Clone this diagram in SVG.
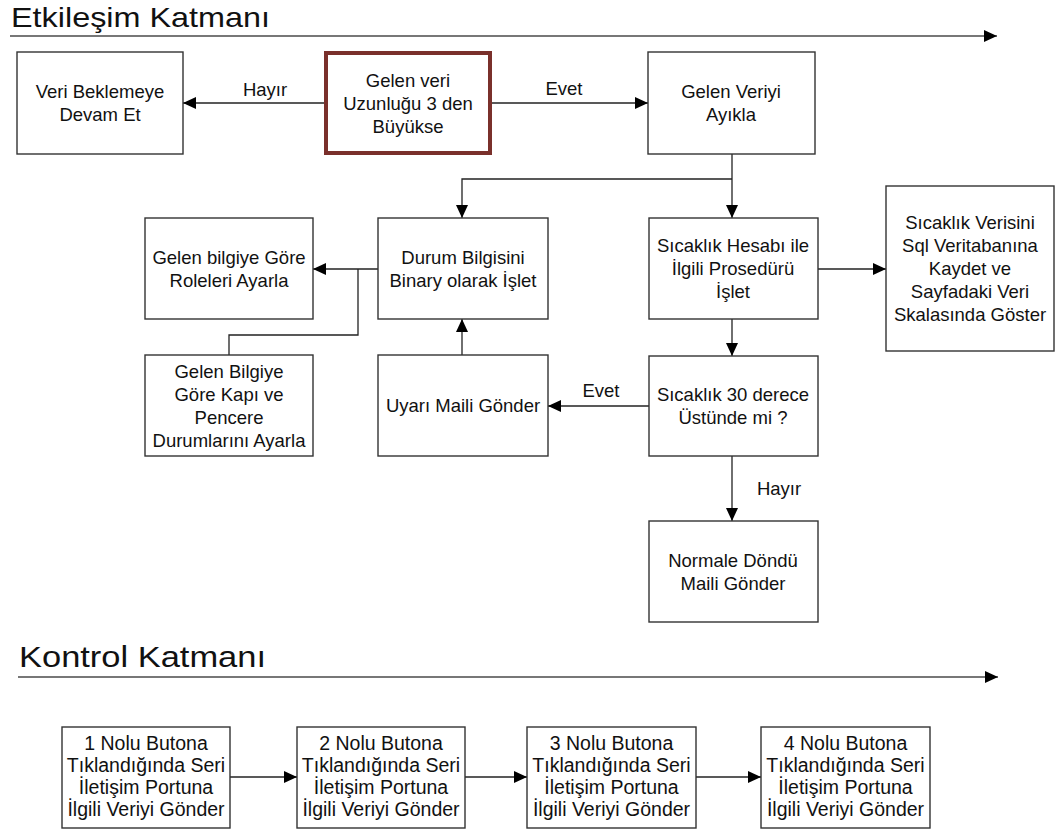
<svg xmlns="http://www.w3.org/2000/svg" width="1060" height="834" viewBox="0 0 1060 834">
  <defs>
    <marker id="arrow" markerUnits="userSpaceOnUse" markerWidth="13" markerHeight="12" refX="13" refY="6" orient="auto">
      <path d="M0,0 L13,6 L0,12 Z" fill="#000"/>
    </marker>
    <style>
      .box { fill: #fff; stroke: #333; stroke-width: 1.4; }
      .hot { fill: #fff; stroke: #7a302b; stroke-width: 4; }
      .t { font-family: "Liberation Sans", Arial, sans-serif; font-size: 18.5px; fill: #111; text-anchor: middle; }
      .tb { font-family: "Liberation Sans", Arial, sans-serif; font-size: 19.5px; fill: #111; text-anchor: middle; }
      .lbl { font-family: "Liberation Sans", Arial, sans-serif; font-size: 18.5px; fill: #111; text-anchor: middle; }
      .layer { font-family: "Liberation Sans", Arial, sans-serif; fill: #111; }
      .lane { stroke: #777; stroke-width: 2; fill: none; }
      .c { stroke: #222; stroke-width: 1.3; fill: none; }
    </style>
  </defs>

  <!-- layer headings -->
  <g id="layer-etkilesim">
    <text class="layer" x="11" y="27" font-size="28" textLength="259" lengthAdjust="spacingAndGlyphs">Etkileşim Katmanı</text>
    <line class="lane" x1="10" y1="36" x2="997" y2="36" marker-end="url(#arrow)"/>
  </g>
  <g id="layer-kontrol">
    <text class="layer" x="19" y="667" font-size="30" textLength="247" lengthAdjust="spacingAndGlyphs">Kontrol Katmanı</text>
    <line class="lane" x1="18" y1="677" x2="998" y2="677" marker-end="url(#arrow)"/>
  </g>

  <!-- connectors -->
  <g id="connectors">
    <line class="c" x1="324" y1="103" x2="183" y2="103" marker-end="url(#arrow)"/>
    <text class="lbl" x="265" y="96">Hayır</text>
    <line class="c" x1="492" y1="103" x2="648" y2="103" marker-end="url(#arrow)"/>
    <text class="lbl" x="564" y="95">Evet</text>
    <line class="c" x1="732" y1="154" x2="732" y2="218" marker-end="url(#arrow)"/>
    <polyline class="c" points="732,179 462,179 462,218" marker-end="url(#arrow)"/>
    <line class="c" x1="378" y1="269" x2="313" y2="269" marker-end="url(#arrow)"/>
    <polyline class="c" points="358,269 358,335 229,335 229,355"/>
    <line class="c" x1="462" y1="355" x2="462" y2="319" marker-end="url(#arrow)"/>
    <line class="c" x1="818" y1="269" x2="886" y2="269" marker-end="url(#arrow)"/>
    <line class="c" x1="732" y1="319" x2="732" y2="356" marker-end="url(#arrow)"/>
    <line class="c" x1="649" y1="406" x2="548" y2="406" marker-end="url(#arrow)"/>
    <text class="lbl" x="601" y="397">Evet</text>
    <line class="c" x1="732" y1="456" x2="732" y2="521" marker-end="url(#arrow)"/>
    <text class="lbl" x="779" y="495">Hayır</text>
    <line class="c" x1="230" y1="777" x2="297" y2="777" marker-end="url(#arrow)"/>
    <line class="c" x1="465" y1="777" x2="527" y2="777" marker-end="url(#arrow)"/>
    <line class="c" x1="696" y1="777" x2="761" y2="777" marker-end="url(#arrow)"/>
  </g>

  <!-- interaction layer nodes -->
  <g id="veri-bekle">
    <rect class="box" x="17" y="52" width="166" height="102"/>
    <text class="t" x="100" y="98">Veri Beklemeye</text>
    <text class="t" x="100" y="121">Devam Et</text>
  </g>
  <g id="veri-uzunlugu">
    <rect class="hot" x="326" y="53" width="164" height="100"/>
    <text class="t" x="408" y="87">Gelen veri</text>
    <text class="t" x="408" y="110">Uzunluğu 3 den</text>
    <text class="t" x="408" y="133">Büyükse</text>
  </g>
  <g id="veri-ayikla">
    <rect class="box" x="648" y="52" width="167" height="102"/>
    <text class="t" x="731" y="98">Gelen Veriyi</text>
    <text class="t" x="731" y="121">Ayıkla</text>
  </g>
  <g id="roleler">
    <rect class="box" x="145" y="218" width="168" height="101"/>
    <text class="t" x="229" y="263.5">Gelen bilgiye Göre</text>
    <text class="t" x="229" y="286.5">Roleleri Ayarla</text>
  </g>
  <g id="durum-bilgisi">
    <rect class="box" x="378" y="218" width="170" height="101"/>
    <text class="t" x="463" y="263.5">Durum Bilgisini</text>
    <text class="t" x="463" y="286.5">Binary olarak İşlet</text>
  </g>
  <g id="sicaklik-hesabi">
    <rect class="box" x="649" y="218" width="169" height="101"/>
    <text class="t" x="733" y="252">Sıcaklık Hesabı ile</text>
    <text class="t" x="733" y="275">İlgili Prosedürü</text>
    <text class="t" x="733" y="298">İşlet</text>
  </g>
  <g id="sql-kaydet">
    <rect class="box" x="886" y="186" width="168" height="165"/>
    <text class="t" x="970" y="229">Sıcaklık Verisini</text>
    <text class="t" x="970" y="252">Sql Veritabanına</text>
    <text class="t" x="970" y="275">Kaydet ve</text>
    <text class="t" x="970" y="298">Sayfadaki Veri</text>
    <text class="t" x="970" y="321">Skalasında Göster</text>
  </g>
  <g id="kapi-pencere">
    <rect class="box" x="145" y="355" width="168" height="101"/>
    <text class="t" x="229" y="377.5">Gelen Bilgiye</text>
    <text class="t" x="229" y="400.5">Göre Kapı ve</text>
    <text class="t" x="229" y="423.5">Pencere</text>
    <text class="t" x="229" y="446.5">Durumlarını Ayarla</text>
  </g>
  <g id="uyari-maili">
    <rect class="box" x="378" y="355" width="170" height="101"/>
    <text class="t" x="463" y="412">Uyarı Maili Gönder</text>
  </g>
  <g id="sicaklik-30">
    <rect class="box" x="649" y="356" width="169" height="100"/>
    <text class="t" x="733" y="401">Sıcaklık 30 derece</text>
    <text class="t" x="733" y="424">Üstünde mi ?</text>
  </g>
  <g id="normale-dondu">
    <rect class="box" x="649" y="521" width="169" height="101"/>
    <text class="t" x="733" y="566.5">Normale Döndü</text>
    <text class="t" x="733" y="589.5">Maili Gönder</text>
  </g>

  <!-- control layer nodes -->
  <g id="buton-1">
    <rect class="box" x="62" y="727" width="168" height="101"/>
    <text class="tb" x="146" y="749.5">1 Nolu Butona</text>
    <text class="tb" x="146" y="771.5">Tıklandığında Seri</text>
    <text class="tb" x="146" y="793.5">İletişim Portuna</text>
    <text class="tb" x="146" y="815.5">İlgili Veriyi Gönder</text>
  </g>
  <g id="buton-2">
    <rect class="box" x="297" y="727" width="168" height="101"/>
    <text class="tb" x="381" y="749.5">2 Nolu Butona</text>
    <text class="tb" x="381" y="771.5">Tıklandığında Seri</text>
    <text class="tb" x="381" y="793.5">İletişim Portuna</text>
    <text class="tb" x="381" y="815.5">İlgili Veriyi Gönder</text>
  </g>
  <g id="buton-3">
    <rect class="box" x="527" y="727" width="169" height="101"/>
    <text class="tb" x="611.5" y="749.5">3 Nolu Butona</text>
    <text class="tb" x="611.5" y="771.5">Tıklandığında Seri</text>
    <text class="tb" x="611.5" y="793.5">İletişim Portuna</text>
    <text class="tb" x="611.5" y="815.5">İlgili Veriyi Gönder</text>
  </g>
  <g id="buton-4">
    <rect class="box" x="761" y="727" width="169" height="101"/>
    <text class="tb" x="845.5" y="749.5">4 Nolu Butona</text>
    <text class="tb" x="845.5" y="771.5">Tıklandığında Seri</text>
    <text class="tb" x="845.5" y="793.5">İletişim Portuna</text>
    <text class="tb" x="845.5" y="815.5">İlgili Veriyi Gönder</text>
  </g>
</svg>
